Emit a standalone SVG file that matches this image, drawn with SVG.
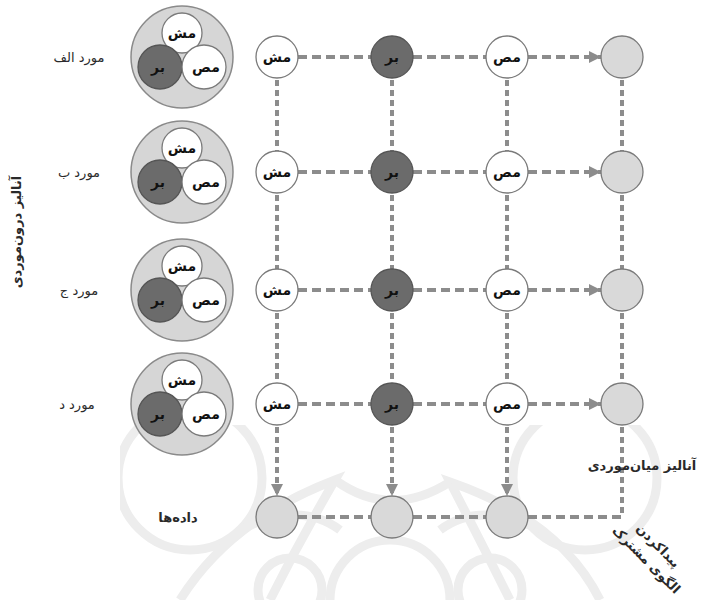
<svg xmlns="http://www.w3.org/2000/svg" width="702" height="600" viewBox="0 0 702 600">
<defs>
<style>
.lbl{font-family:"DejaVu Sans","Noto Sans",sans-serif;font-size:13px;fill:#2a2a2a;text-anchor:middle}
.nl{font-family:"DejaVu Sans","Noto Sans",sans-serif;font-size:14px;font-weight:bold;fill:#111;text-anchor:middle}
.hd{stroke:#8c8c8c;stroke-width:4;stroke-dasharray:9 5;fill:none}
.vd{stroke:#8c8c8c;stroke-width:4;stroke-dasharray:6 4;fill:none}
.w{fill:#fff;stroke:#7a7a7a;stroke-width:1.3}
.d{fill:#6b6b6b;stroke:#555;stroke-width:1.3}
.g{fill:#d9d9d9;stroke:#7a7a7a;stroke-width:1.3}
.big{fill:#d6d6d6;stroke:#8a8a8a;stroke-width:1.5}
.wm{fill:none;stroke:#ededed;stroke-width:9}
</style>
<marker id="ah" viewBox="0 0 12 12" refX="12" refY="6" markerWidth="12" markerHeight="12" markerUnits="userSpaceOnUse" orient="auto">
<path d="M0,0 L12,6 L0,12 z" fill="#8c8c8c"/>
</marker>
<clipPath id="wmclip"><rect x="120" y="425" width="560" height="175"/></clipPath>
</defs>
<rect width="702" height="600" fill="#fff"/>
<g id="watermark" clip-path="url(#wmclip)">
<circle class="wm" cx="190" cy="478" r="72"/>
<circle class="wm" cx="585" cy="478" r="72"/>
<path class="wm" d="M180,600 Q230,520 335,480 Q300,540 270,600"/>
<path class="wm" d="M600,600 Q560,520 450,482 Q480,540 510,600"/>
<path class="wm" d="M335,480 Q390,520 450,482"/>
<circle class="wm" cx="390" cy="600" r="60"/>
<circle class="wm" cx="290" cy="590" r="32"/>
<circle class="wm" cx="490" cy="590" r="32"/>
<path class="wm" d="M240,530 Q300,500 340,530 M440,530 Q480,500 540,530"/>
</g>
<g id="connectors">
<line class="hd" x1="298" y1="57" x2="371" y2="57"/>
<line class="hd" x1="413" y1="57" x2="486" y2="57"/>
<line class="hd" x1="528" y1="57" x2="601" y2="57" marker-end="url(#ah)"/>
<line class="hd" x1="298" y1="172" x2="371" y2="172"/>
<line class="hd" x1="413" y1="172" x2="486" y2="172"/>
<line class="hd" x1="528" y1="172" x2="601" y2="172" marker-end="url(#ah)"/>
<line class="hd" x1="298" y1="290" x2="371" y2="290"/>
<line class="hd" x1="413" y1="290" x2="486" y2="290"/>
<line class="hd" x1="528" y1="290" x2="601" y2="290" marker-end="url(#ah)"/>
<line class="hd" x1="298" y1="404" x2="371" y2="404"/>
<line class="hd" x1="413" y1="404" x2="486" y2="404"/>
<line class="hd" x1="528" y1="404" x2="601" y2="404" marker-end="url(#ah)"/>
<line class="hd" x1="298" y1="517" x2="371" y2="517"/>
<line class="hd" x1="413" y1="517" x2="486" y2="517"/>
<line class="hd" x1="528" y1="517" x2="622" y2="517"/>
<line class="vd" x1="277" y1="80" x2="277" y2="151"/>
<line class="vd" x1="277" y1="195" x2="277" y2="269"/>
<line class="vd" x1="277" y1="313" x2="277" y2="383"/>
<line class="vd" x1="277" y1="427" x2="277" y2="496" marker-end="url(#ah)"/>
<line class="vd" x1="392" y1="80" x2="392" y2="151"/>
<line class="vd" x1="392" y1="195" x2="392" y2="269"/>
<line class="vd" x1="392" y1="313" x2="392" y2="383"/>
<line class="vd" x1="392" y1="427" x2="392" y2="496" marker-end="url(#ah)"/>
<line class="vd" x1="507" y1="80" x2="507" y2="151"/>
<line class="vd" x1="507" y1="195" x2="507" y2="269"/>
<line class="vd" x1="507" y1="313" x2="507" y2="383"/>
<line class="vd" x1="507" y1="427" x2="507" y2="496" marker-end="url(#ah)"/>
<line class="vd" x1="622" y1="80" x2="622" y2="151"/>
<line class="vd" x1="622" y1="195" x2="622" y2="269"/>
<line class="vd" x1="622" y1="313" x2="622" y2="383"/>
<line class="vd" x1="622" y1="427" x2="622" y2="517"/>
</g>
<g id="case-a">
<text class="lbl" x="79" y="62">مورد الف</text>
<circle class="big" cx="182" cy="57" r="51"/>
<circle class="w" cx="182" cy="33" r="20"/><text class="nl" x="182" y="38">مش</text>
<circle class="d" cx="160" cy="67" r="22"/><text class="nl" x="158" y="72">بر</text>
<circle class="w" cx="204" cy="67" r="22"/><text class="nl" x="206" y="72">مص</text>
</g>
<g id="case-b">
<text class="lbl" x="79" y="177">مورد ب</text>
<circle class="big" cx="182" cy="172" r="51"/>
<circle class="w" cx="182" cy="148" r="20"/><text class="nl" x="182" y="153">مش</text>
<circle class="d" cx="160" cy="182" r="22"/><text class="nl" x="158" y="187">بر</text>
<circle class="w" cx="204" cy="182" r="22"/><text class="nl" x="206" y="187">مص</text>
</g>
<g id="case-c">
<text class="lbl" x="79" y="295">مورد ج</text>
<circle class="big" cx="182" cy="290" r="51"/>
<circle class="w" cx="182" cy="266" r="20"/><text class="nl" x="182" y="271">مش</text>
<circle class="d" cx="160" cy="300" r="22"/><text class="nl" x="158" y="305">بر</text>
<circle class="w" cx="204" cy="300" r="22"/><text class="nl" x="206" y="305">مص</text>
</g>
<g id="case-d">
<text class="lbl" x="77" y="409">مورد د</text>
<circle class="big" cx="182" cy="404" r="51"/>
<circle class="w" cx="182" cy="380" r="20"/><text class="nl" x="182" y="385">مش</text>
<circle class="d" cx="160" cy="414" r="22"/><text class="nl" x="158" y="419">بر</text>
<circle class="w" cx="204" cy="414" r="22"/><text class="nl" x="206" y="419">مص</text>
</g>
<g id="row1">
<circle class="w" cx="277" cy="57" r="21"/><text class="nl" x="277" y="62">مش</text>
<circle class="d" cx="392" cy="57" r="21"/><text class="nl" x="392" y="62">بر</text>
<circle class="w" cx="507" cy="57" r="21"/><text class="nl" x="507" y="62">مص</text>
<circle class="g" cx="622" cy="57" r="21"/>
</g>
<g id="row2">
<circle class="w" cx="277" cy="172" r="21"/><text class="nl" x="277" y="177">مش</text>
<circle class="d" cx="392" cy="172" r="21"/><text class="nl" x="392" y="177">بر</text>
<circle class="w" cx="507" cy="172" r="21"/><text class="nl" x="507" y="177">مص</text>
<circle class="g" cx="622" cy="172" r="21"/>
</g>
<g id="row3">
<circle class="w" cx="277" cy="290" r="21"/><text class="nl" x="277" y="295">مش</text>
<circle class="d" cx="392" cy="290" r="21"/><text class="nl" x="392" y="295">بر</text>
<circle class="w" cx="507" cy="290" r="21"/><text class="nl" x="507" y="295">مص</text>
<circle class="g" cx="622" cy="290" r="21"/>
</g>
<g id="row4">
<circle class="w" cx="277" cy="404" r="21"/><text class="nl" x="277" y="409">مش</text>
<circle class="d" cx="392" cy="404" r="21"/><text class="nl" x="392" y="409">بر</text>
<circle class="w" cx="507" cy="404" r="21"/><text class="nl" x="507" y="409">مص</text>
<circle class="g" cx="622" cy="404" r="21"/>
</g>
<g id="data-row">
<text class="lbl" x="178" y="522" font-weight="bold">داده‌ها</text>
<circle class="g" cx="277" cy="517" r="21"/>
<circle class="g" cx="392" cy="517" r="21"/>
<circle class="g" cx="507" cy="517" r="21"/>
</g>
<g id="labels">
<text class="lbl" x="16" y="232" font-size="15" font-weight="bold" transform="rotate(-90 16 232)" dy="5">آنالیز درون‌موردی</text>
<text class="lbl" x="642" y="470" font-size="13.5" font-weight="bold">آنالیز میان‌موردی</text>
<text class="lbl" x="658" y="550" font-size="12" font-weight="bold" transform="rotate(45 658 546)">پیداکردن</text>
<text class="lbl" x="646" y="564" font-size="12" font-weight="bold" transform="rotate(45 646 560)">الگوی مشترک</text>
</g>
</svg>
